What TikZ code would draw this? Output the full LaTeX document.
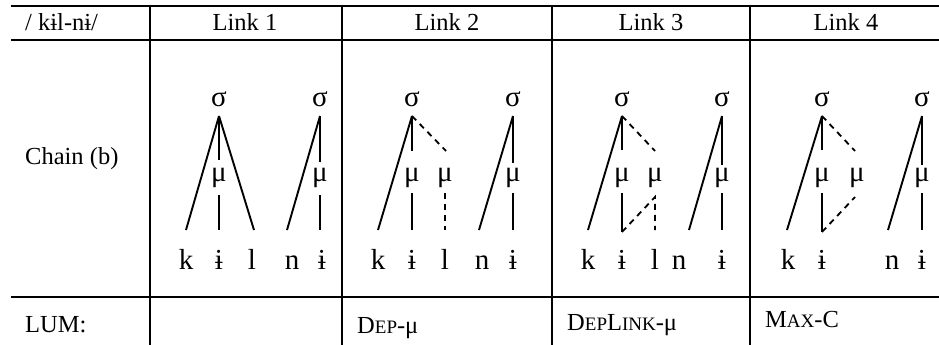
\documentclass[tikz,border=0pt]{standalone}
\usepackage{fontspec}
\setmainfont{Liberation Serif}
\newcommand{\hdr}{\fontsize{24.5}{26}\selectfont}
\newcommand{\sym}{\fontsize{29}{31}\selectfont}
\newcommand{\seg}{\fontsize{29}{31}\selectfont}
\newcommand{\scs}{\fontsize{19}{21}\selectfont}
\begin{document}
\begin{tikzpicture}[x=1pt,y=-1pt,
  tbl/.style={line width=2.2pt},
  br/.style={line width=1.9pt},
  dl/.style={line width=1.8pt, dash pattern=on 6pt off 5pt},
  hd/.style={font=\hdr, inner sep=0pt, anchor=base},
  lab/.style={font=\hdr, inner sep=0pt, anchor=base west},
  gr/.style={font=\sym, inner sep=0pt, anchor=base},
  sg/.style={font=\seg, inner sep=0pt, anchor=base}]
\useasboundingbox (0,0) rectangle (939,345);
% table
\coordinate (tl) at (11,6); \coordinate (tr) at (939,6);
\coordinate (ml) at (11,40); \coordinate (mr) at (939,40);
\coordinate (bl) at (11,297); \coordinate (br) at (939,297);
\draw[tbl] (tl) -- (tr); \draw[tbl] (ml) -- (mr); \draw[tbl] (bl) -- (br);
\foreach \x in {150,342,552,750} \draw[tbl] (\x,6) -- (\x,345);
% header
\node[lab] (h0) at (25,31) {/ kɨl-nɨ/};
\node[hd] (h1) at (245,31) {Link 1};
\node[hd] (h2) at (447,31) {Link 2};
\node[hd] (h3) at (651,31) {Link 3};
\node[hd] (h4) at (846,31) {Link 4};
\node[lab] (ch) at (25,164) {Chain (b)};
% bottom
\node[lab] (lum) at (25,332) {LUM:};
\node[lab] (c2) at (357,333) {D{\scs EP}-μ};
\node[lab] (c3) at (567,330) {D{\scs EP}L{\scs INK}-μ};
\node[lab] (c4) at (765,327) {M{\scs AX}-C};

% ---------- Link 1
\node[gr] (s11) at (219,106) {σ}; \node[gr] (s12) at (320,106) {σ};
\node[gr] (m11) at (219,181) {μ}; \node[gr] (m12) at (320,181) {μ};
\node[sg] (k1) at (186,269) {k}; \node[sg] (i1) at (219,269) {ɨ};
\node[sg] (l1) at (252,269) {l}; \node[sg] (n1) at (292,269) {n};
\node[sg] (j1) at (322,269) {ɨ};
\coordinate (a11) at (219,116); \coordinate (a12) at (320,116);
\draw[br] (a11) -- (186,230) coordinate (ek1);
\draw[br] (a11) -- (254,230) coordinate (el1);
\draw[br] (a11) -- (219,160) coordinate (u11);
\draw[br] (219,195) coordinate (d11) -- (219,230) coordinate (ei1);
\draw[br] (a12) -- (287,230) coordinate (en1);
\draw[br] (a12) -- (320,162) coordinate (u12);
\draw[br] (320,195) coordinate (d12) -- (320,230) coordinate (ej1);

% ---------- Link 2
\node[gr] (s21) at (412,106) {σ}; \node[gr] (s22) at (513,106) {σ};
\node[gr] (m21) at (412,181) {μ}; \node[gr] (m22) at (445,181) {μ};
\node[gr] (m23) at (513,181) {μ};
\node[sg] (k2) at (378,269) {k}; \node[sg] (i2) at (412,269) {ɨ};
\node[sg] (l2) at (445,269) {l}; \node[sg] (n2) at (482,269) {n};
\node[sg] (j2) at (513,269) {ɨ};
\coordinate (a21) at (412,116); \coordinate (a22) at (513,116);
\draw[br] (a21) -- (378,230);
\draw[br] (a21) -- (412,151);
\draw[dl] (a21) -- (446,151);
\draw[br] (412,193) -- (412,230);
\draw[dl] (445,193) -- (445,230);
\draw[br] (a22) -- (479,230);
\draw[br] (a22) -- (513,163);
\draw[br] (513,193) -- (513,230);

% ---------- Link 3
\node[gr] (s31) at (622,106) {σ}; \node[gr] (s32) at (722,106) {σ};
\node[gr] (m31) at (622,181) {μ}; \node[gr] (m32) at (655,181) {μ};
\node[gr] (m33) at (722,181) {μ};
\node[sg] (k3) at (588,269) {k}; \node[sg] (i3) at (622,269) {ɨ};
\node[sg] (l3) at (655,269) {l}; \node[sg] (n3) at (679,269) {n};
\node[sg] (j3) at (722,269) {ɨ};
\coordinate (a31) at (622,116); \coordinate (a32) at (722,116);
\coordinate (b31) at (622,232);
\draw[br] (a31) -- (588,230);
\draw[br] (a31) -- (622,150);
\draw[dl] (a31) -- (655,151);
\draw[br] (622,193) -- (b31);
\draw[dl] (b31) -- (655,197) -- (655,230);
\draw[br] (a32) -- (689,230);
\draw[br] (a32) -- (722,165);
\draw[br] (722,193) -- (722,230);

% ---------- Link 4
\node[gr] (s41) at (822,106) {σ}; \node[gr] (s42) at (922,106) {σ};
\node[gr] (m41) at (822,181) {μ}; \node[gr] (m42) at (857,181) {μ};
\node[gr] (m43) at (922,181) {μ};
\node[sg] (k4) at (788,269) {k}; \node[sg] (i4) at (822,269) {ɨ};
\node[sg] (n4) at (892,269) {n}; \node[sg] (j4) at (922,269) {ɨ};
\coordinate (a41) at (822,116); \coordinate (a42) at (922,116);
\coordinate (b41) at (822,232);
\draw[br] (a41) -- (787,230);
\draw[br] (a41) -- (822,150);
\draw[dl] (a41) -- (855,151);
\draw[br] (822,193) -- (b41);
\draw[dl] (b41) -- (855,197);
\draw[br] (a42) -- (888,230);
\draw[br] (a42) -- (922,165);
\draw[br] (922,193) -- (922,230);
\end{tikzpicture}
\end{document}
